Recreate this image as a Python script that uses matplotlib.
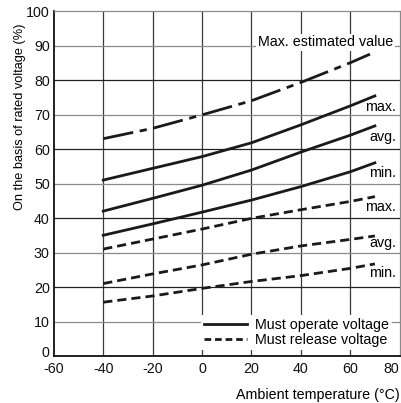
# Relay coil voltage vs ambient temperature

import matplotlib
matplotlib.use("Agg")
import matplotlib.pyplot as plt
import matplotlib.transforms as mtransforms
from matplotlib.lines import Line2D

plt.rcParams['font.family'] = ['Liberation Sans', 'DejaVu Sans']
plt.rcParams['axes.unicode_minus'] = False

# data
temps = [-40, -20, 0, 20, 40, 60, 70]
est_temps = [-40, -20, 0, 20, 40, 60, 68]
max_estimated = [63, 66, 69.9, 74, 79.3, 85, 87.5]

operate_max = [51, 54.4, 57.8, 61.8, 67, 72.5, 75.4]
operate_avg = [42, 45.7, 49.5, 53.9, 59.1, 64, 66.7]
operate_min = [35, 38.3, 41.7, 45.2, 49.1, 53.4, 56]

release_max = [31, 33.9, 36.8, 39.9, 42.4, 44.8, 46.2]
release_avg = [21, 23.8, 26.4, 29.5, 31.9, 33.8, 34.8]
release_min = [15.6, 17.4, 19.6, 21.6, 23.3, 25.4, 26.7]

x_ticks = [-60, -40, -20, 0, 20, 40, 60, 80]
y_ticks = [0, 10, 20, 30, 40, 50, 60, 70, 80, 90, 100]

# label positions (data units)
operate_labels = [("max.", 72.2), ("avg.", 63.5), ("min.", 53)]
release_labels = [("max.", 43.2), ("avg.", 32.8), ("min.", 24.1)]


def main():
    fig = plt.figure(figsize=(4.02, 4.03), dpi=100)
    ax = fig.add_axes([0.134, 0.1166, 0.860, 0.856])

    ax.set_xlim(-60, 80)
    ax.set_ylim(0, 100)

    # grid: horizontals alternate dark/grey
    for t in x_ticks[1:-1]:
        ax.axvline(t, color='#3a3a3a', lw=0.9, zorder=1)
    for v in y_ticks[1:-1]:
        c = '#222222' if v % 20 == 0 else '#8a8a8a'
        ax.axhline(v, color=c, lw=0.9, zorder=1)

    lw = 2.0
    dash = (3.3, 1.8)
    est = ax.plot(est_temps, max_estimated, color='#1a1a1a', lw=lw, zorder=3)[0]
    est.set_dashes((11, 2.4, 2.6, 2.4))

    for vals in (operate_max, operate_avg, operate_min):
        ax.plot(temps, vals, color='#1a1a1a', lw=lw, zorder=3)
    for vals in (release_max, release_avg, release_min):
        ln = ax.plot(temps, vals, color='#1a1a1a', lw=lw, zorder=3)[0]
        ln.set_dashes(dash)

    fs = 10.3
    ax.text(77.4, 91, "Max. estimated value", ha='right', va='center', fontsize=fs,
            bbox=dict(facecolor='white', edgecolor='none', pad=1), zorder=4)
    for label, y in operate_labels + release_labels:
        ax.text(78.6, y, label, ha='right', va='center', fontsize=fs, zorder=4)

    handles = [Line2D([], [], color='#1a1a1a', lw=lw),
               Line2D([], [], color='#1a1a1a', lw=lw, dashes=(2.4, 1.4))]
    leg = ax.legend(handles, ["Must operate voltage", "Must release voltage"],
                    loc='lower right', bbox_to_anchor=(0.978, 0.018),
                    fontsize=fs, frameon=True, fancybox=False,
                    borderpad=0.2, borderaxespad=0, labelspacing=0.1,
                    handlelength=3.0, handletextpad=0.6)
    leg.get_frame().set_edgecolor('none')
    leg.get_frame().set_facecolor('white')
    leg.get_frame().set_alpha(1)
    leg.set_zorder(5)

    for side in ('left', 'bottom'):
        ax.spines[side].set_color('#111111')
        ax.spines[side].set_linewidth(1.3)
    for side in ('top', 'right'):
        ax.spines[side].set_color('#8a8a8a')
        ax.spines[side].set_linewidth(0.9)

    ax.set_xticks(x_ticks)
    ax.set_yticks(y_ticks)
    ax.tick_params(length=0, labelsize=fs, colors='#111111')
    ax.tick_params(axis='y', pad=3)
    ax.tick_params(axis='x', pad=4)

    # last x label kept inside the picture, "0" on y nudged up like the original
    ax.get_xticklabels()[-1].set_ha('right')
    ylab0 = ax.get_yticklabels()[0]
    ylab0.set_transform(ylab0.get_transform() +
                        mtransforms.ScaledTranslation(0, 3 / 72, fig.dpi_scale_trans))

    ax.set_ylabel("On the basis of rated voltage (%)", fontsize=9.2)
    ax.yaxis.set_label_coords(-0.08, 0.693)
    ax.set_xlabel("Ambient temperature (°C)", fontsize=fs, ha='right', va='center')
    ax.xaxis.set_label_coords(1.0, -0.113)

    fig.savefig("out.png", dpi=100)


if __name__ == "__main__":
    main()
